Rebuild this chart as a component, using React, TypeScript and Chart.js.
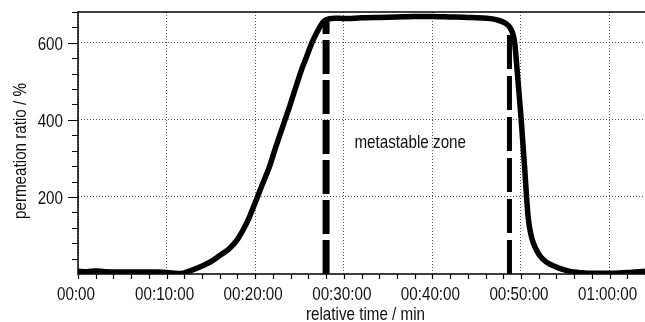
import React, { useEffect, useRef } from "react";
import { Chart, registerables } from "chart.js";

Chart.register(...registerables);

// ---- data (minutes, %) ----
const timeMin = [
  0, 1, 2, 3, 5, 7, 9, 10, 11, 11.6, 12.5, 13.75, 15, 16, 17.1, 18, 18.6, 19.3, 20.1, 20.8,
  21.6, 22.3, 23.1, 23.9, 24.6, 25.2, 25.8, 26.4, 26.9, 27.4, 27.8, 28.3, 29, 30, 32, 34, 36,
  38, 40, 42, 44, 46, 47.2, 48.3, 48.8, 49.1, 49.3, 49.6, 49.85, 50.0, 50.4, 50.8, 51.1, 51.4,
  52, 52.5, 53.2, 54, 55, 55.9, 57, 58, 60, 62, 64,
];
const permeation = [
  7, 6, 8, 6, 5, 5, 5, 4, 2, 1, 7, 18, 32, 48, 66, 90, 113, 145, 191, 232,
  278, 328, 382, 436, 486, 528, 564, 600, 624, 645, 657, 662, 664, 663, 665, 666, 667,
  668, 668, 667, 666, 664, 660, 650, 638, 622, 598, 520, 450, 408, 280, 150, 105, 80,
  52, 38, 26, 18, 10, 5, 3, 2, 2, 4, 7,
];

const dash1X = [28.0, 28.0];
const dash1Y = [0, 660];
const dash2X = [48.7, 48.7];
const dash2Y = [0, 645];

const xTickValues = [0, 10, 20, 30, 40, 50, 60];
const xTickLabels = ["00:00", "00:10:00", "00:20:00", "00:30:00", "00:40:00", "00:50:00", "01:00:00"];
const yTickValues = [200, 400, 600];
const yTickLabels = ["200", "400", "600"];

const xTitle = "relative time / min";
const yTitle = "permeation ratio / %";
const zoneLabel = "metastable zone";
const zoneLabelX = 37.5;
const zoneLabelY = 343;

const X_MIN = 0;
const X_MAX = 64;
const Y_MIN = 0;
const Y_MAX = 680;
const X_MINOR_STEP = 2;
const Y_MINOR_STEP = 40;

const FONT = "'Liberation Sans', Arial, sans-serif";
const FONT_SIZE = 19;
const SQUEEZE = 0.8;

function squeezedText(
  ctx: CanvasRenderingContext2D,
  text: string,
  x: number,
  y: number,
  align: CanvasTextAlign,
  rotate = 0
) {
  ctx.save();
  ctx.translate(x, y);
  if (rotate) ctx.rotate(rotate);
  ctx.scale(SQUEEZE, 1);
  ctx.textAlign = align;
  ctx.textBaseline = "alphabetic";
  ctx.fillText(text, 0, 0);
  ctx.restore();
}

const framePlugin = {
  id: "frameAndExtras",
  afterDatasetsDraw(chart: any) {
    const { ctx, chartArea, scales } = chart;
    const xs = scales.x;
    const ys = scales.y;
    ctx.save();
    ctx.fillStyle = "#111";
    ctx.font = `${FONT_SIZE}px ${FONT}`;

    // annotation
    squeezedText(
      ctx,
      zoneLabel,
      xs.getPixelForValue(zoneLabelX),
      ys.getPixelForValue(zoneLabelY) + 6,
      "center"
    );

    // tick labels
    xTickValues.forEach((v, i) => {
      squeezedText(ctx, xTickLabels[i], xs.getPixelForValue(v) - 2, chartArea.bottom + 26, "center");
    });
    yTickValues.forEach((v, i) => {
      squeezedText(ctx, yTickLabels[i], chartArea.left - 15, ys.getPixelForValue(v) + 7, "right");
    });

    // axis titles
    squeezedText(ctx, xTitle, (chartArea.left + chartArea.right) / 2 + 4, chartArea.bottom + 46, "center");
    squeezedText(ctx, yTitle, 26, (chartArea.top + chartArea.bottom) / 2 + 8, "center", -Math.PI / 2);

    // frame
    ctx.strokeStyle = "#000";
    ctx.lineWidth = 1.5;
    ctx.beginPath();
    ctx.moveTo(chartArea.right + 2, chartArea.top);
    ctx.lineTo(chartArea.left, chartArea.top);
    ctx.lineTo(chartArea.left, chartArea.bottom);
    ctx.lineTo(chartArea.right + 2, chartArea.bottom);
    ctx.stroke();

    // x ticks (every 2 min, downward)
    ctx.lineWidth = 1.2;
    ctx.beginPath();
    for (let v = X_MIN; v <= X_MAX; v += X_MINOR_STEP) {
      const px = Math.round(xs.getPixelForValue(v)) + 0.5;
      ctx.moveTo(px, chartArea.bottom);
      ctx.lineTo(px, chartArea.bottom + 5);
    }
    // y ticks (minor every 40, major at labels)
    for (let v = Y_MIN + Y_MINOR_STEP; v <= Y_MAX; v += Y_MINOR_STEP) {
      const py = Math.round(ys.getPixelForValue(v)) + 0.5;
      const major = yTickValues.includes(v);
      ctx.moveTo(chartArea.left, py);
      ctx.lineTo(chartArea.left - (major ? 10 : 6), py);
    }
    ctx.stroke();
    ctx.restore();
  },
};

export default function App() {
  const canvasRef = useRef<HTMLCanvasElement | null>(null);

  useEffect(() => {
    const canvas = canvasRef.current;
    if (!canvas) return;
    const mainData = timeMin.map((t, i) => ({ x: t, y: permeation[i] }));
    const d1 = dash1X.map((x, i) => ({ x, y: dash1Y[i] }));
    const d2 = dash2X.map((x, i) => ({ x, y: dash2Y[i] }));

    const chart = new Chart(canvas, {
      type: "line",
      data: {
        datasets: [
          {
            data: d1,
            borderColor: "#000",
            borderWidth: 7,
            borderDash: [34, 6],
            borderCapStyle: "butt",
            pointRadius: 0,
            fill: false,
          },
          {
            data: d2,
            borderColor: "#000",
            borderWidth: 5,
            borderDash: [34, 7],
            borderCapStyle: "butt",
            pointRadius: 0,
            fill: false,
          },
          {
            data: mainData,
            borderColor: "#000",
            borderWidth: 5.5,
            pointRadius: 0,
            cubicInterpolationMode: "monotone",
            fill: false,
          },
        ],
      },
      options: {
        animation: false,
        responsive: true,
        maintainAspectRatio: false,
        layout: { padding: { top: 12, right: 0, left: 0, bottom: 0 } },
        plugins: { legend: { display: false }, tooltip: { enabled: false } },
        scales: {
          x: {
            type: "linear",
            min: X_MIN,
            max: X_MAX,
            afterBuildTicks: (scale: any) => {
              scale.ticks = xTickValues.map((v) => ({ value: v }));
            },
            afterFit: (scale: any) => {
              scale.height = 48;
            },
            ticks: { display: false },
            grid: { color: "#555", lineWidth: 1, drawTicks: false },
            border: { display: false, dash: [1, 2] },
          },
          y: {
            type: "linear",
            min: Y_MIN,
            max: Y_MAX,
            afterBuildTicks: (scale: any) => {
              scale.ticks = yTickValues.map((v) => ({ value: v }));
            },
            afterFit: (scale: any) => {
              scale.width = 78;
            },
            ticks: { display: false },
            grid: { color: "#555", lineWidth: 1, drawTicks: false },
            border: { display: false, dash: [1, 2] },
          },
        },
      },
      plugins: [framePlugin],
    });
    return () => chart.destroy();
  }, []);

  return (
    <div style={{ position: "absolute", left: 0, top: 0, width: 645, height: 322, background: "#fff" }}>
      <canvas ref={canvasRef} />
    </div>
  );
}
